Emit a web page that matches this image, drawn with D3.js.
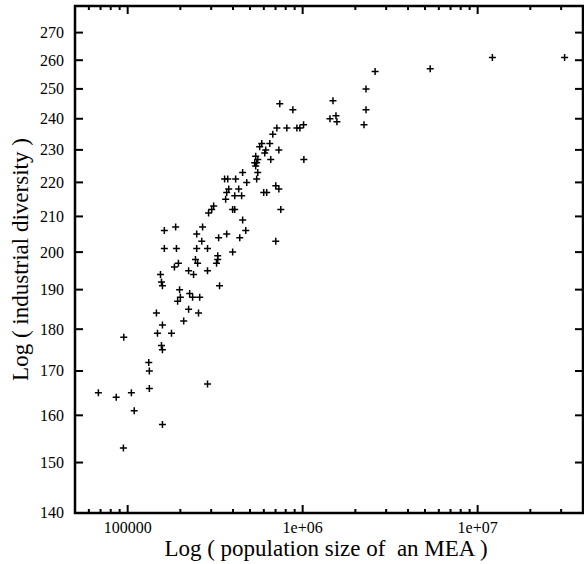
<!DOCTYPE html>
<html>
<head>
<meta charset="utf-8">
<script src="https://cdn.jsdelivr.net/npm/d3@7"></script>
<style>
    body { margin: 0; background: #fff; }
    .title { white-space: pre; }
</style>
</head>
<body>
<svg id="chart"></svg>
<script>
// population of each MEA (x) and industrial diversity (y)
const population = [
    68000, 86000, 94500, 95000, 105000, 109000, 133000, 133000, 132000, 158000,
    156000, 158000, 148000, 158000, 178000, 146000, 154000, 156000, 158000, 198000,
    193000, 200000, 223000, 209000, 226000, 235000, 258000, 254000, 286000, 162000,
    188000, 162000, 190000, 195000, 185000, 248000, 268000, 265000, 248000, 286000,
    244000, 251000, 223000, 238000, 286000, 327000, 327000, 322000, 331000, 368000,
    398000, 335000, 290000, 302000, 310000, 398000, 409000, 454000, 473000, 437000,
    702000, 750000, 378000, 368000, 431000, 409000, 448000, 363000, 358000, 373000,
    414000, 454000, 479000, 554000, 546000, 623000, 599000, 702000, 731000, 539000,
    554000, 532000, 546000, 657000, 1016000, 607000, 584000, 649000, 568000, 615000,
    731000, 675000, 712000, 812000, 927000, 964000, 1012000, 740000, 879000, 1490000,
    1432000, 1550000, 1570000, 2242000, 2302000, 2302000, 2594000, 5357000, 12140000, 31400000,
    539000
];
const diversity = [
    165, 164, 153, 178, 165, 161, 166, 170, 172, 158,
    176, 175, 179, 181, 179, 184, 194, 192, 191, 190,
    187, 188, 185, 182, 189, 188, 188, 184, 167, 206,
    207, 201, 201, 197, 196, 205, 207, 203, 201, 201,
    198, 197, 195, 194, 195, 199, 198, 197, 204, 205,
    200, 191, 211, 212, 213, 212, 212, 209, 206, 204,
    203, 212, 218, 217, 218, 216, 216, 215, 221, 221,
    221, 223, 220, 223, 221, 217, 217, 219, 218, 228,
    227, 226, 226, 227, 227, 229, 232, 232, 231, 230,
    230, 235, 237, 237, 237, 237, 238, 245, 243, 246,
    240, 241, 239, 238, 243, 250, 256, 257, 261, 261,
    225
];

const xTickValues = [1e5, 1e6, 1e7];
const xTickLabels = ['100000', '1e+06', '1e+07'];
const yTickValues = [140, 150, 160, 170, 180, 190, 200, 210, 220, 230, 240, 250, 260, 270];

const xTitle = 'Log ( population size of  an MEA )';
const yTitle = 'Log ( industrial diversity )';

const config = {
    width: 584,
    height: 564,
    margin: {top: 6, right: 1, bottom: 51, left: 75}
};

const data = population.map((p, i) => ({pop: p, div: diversity[i]}));
const serif = '"Liberation Serif", serif';

const svg = d3.select('#chart')
    .attr('width', config.width)
    .attr('height', config.height)
    .style('font-family', serif);

const innerW = config.width - config.margin.left - config.margin.right;
const innerH = config.height - config.margin.top - config.margin.bottom;

const xScale = d3.scaleLog()
    .domain([5e4, 4e7])
    .range([0, innerW]);

const yScale = d3.scaleLog()
    .domain([140, 280])
    .range([innerH, 0]);

const g = svg.append('g')
    .attr('transform', `translate(${config.margin.left},${config.margin.top})`);

// minor ticks on the x axis: 2..9 of every decade inside the domain
const minorX = [];
[1e4, 1e5, 1e6, 1e7].forEach(d => {
    for (let k = 2; k <= 9; k++) {
        const v = d * k;
        if (v > xScale.domain()[0] && v < xScale.domain()[1]) minorX.push(v);
    }
});

// ticks point inwards on all four sides
const tickG = g.append('g')
    .attr('stroke', '#000')
    .attr('stroke-width', 2);

tickG.selectAll('.ytick-l')
    .data(yTickValues)
    .join('line')
    .attr('x1', 0).attr('x2', 8)
    .attr('y1', d => yScale(d)).attr('y2', d => yScale(d));

tickG.selectAll('.ytick-r')
    .data(yTickValues)
    .join('line')
    .attr('x1', innerW).attr('x2', innerW - 8)
    .attr('y1', d => yScale(d)).attr('y2', d => yScale(d));

[0, innerH].forEach(y0 => {
    const dir = y0 === 0 ? 1 : -1;
    tickG.append('g').selectAll('line')
        .data(xTickValues)
        .join('line')
        .attr('x1', d => xScale(d)).attr('x2', d => xScale(d))
        .attr('y1', y0).attr('y2', y0 + dir * 8);
    tickG.append('g').selectAll('line')
        .data(minorX)
        .join('line')
        .attr('x1', d => xScale(d)).attr('x2', d => xScale(d))
        .attr('y1', y0).attr('y2', y0 + dir * 4);
});

// frame
g.append('rect')
    .attr('width', innerW)
    .attr('height', innerH)
    .attr('fill', 'none')
    .attr('stroke', '#000')
    .attr('stroke-width', 2.5);

// tick labels
g.selectAll('.ylabel')
    .data(yTickValues)
    .join('text')
    .attr('x', -11)
    .attr('y', d => yScale(d))
    .attr('dy', '0.34em')
    .attr('text-anchor', 'end')
    .attr('font-size', 16)
    .text(d => d);

g.selectAll('.xlabel')
    .data(xTickValues)
    .join('text')
    .attr('x', d => xScale(d))
    .attr('y', innerH + 20)
    .attr('text-anchor', 'middle')
    .attr('font-size', 16)
    .text((d, i) => xTickLabels[i]);

// axis titles
svg.append('text')
    .attr('class', 'title')
    .attr('x', config.margin.left + innerW / 2 - 3)
    .attr('y', 556)
    .attr('text-anchor', 'middle')
    .attr('font-size', 23)
    .text(xTitle);

svg.append('text')
    .attr('class', 'title')
    .attr('transform', `translate(28,${config.margin.top + innerH / 2}) rotate(-90)`)
    .attr('text-anchor', 'middle')
    .attr('font-size', 23)
    .text(yTitle);

// points drawn as plus signs
g.selectAll('.pt')
    .data(data)
    .join('path')
    .attr('class', 'pt')
    .attr('transform', d => `translate(${xScale(d.pop)},${yScale(d.div)})`)
    .attr('d', 'M-3.5,0H3.5M0,-3.5V3.5')
    .attr('stroke', '#000')
    .attr('stroke-width', 1.5)
    .attr('fill', 'none');
</script>
</body>
</html>
